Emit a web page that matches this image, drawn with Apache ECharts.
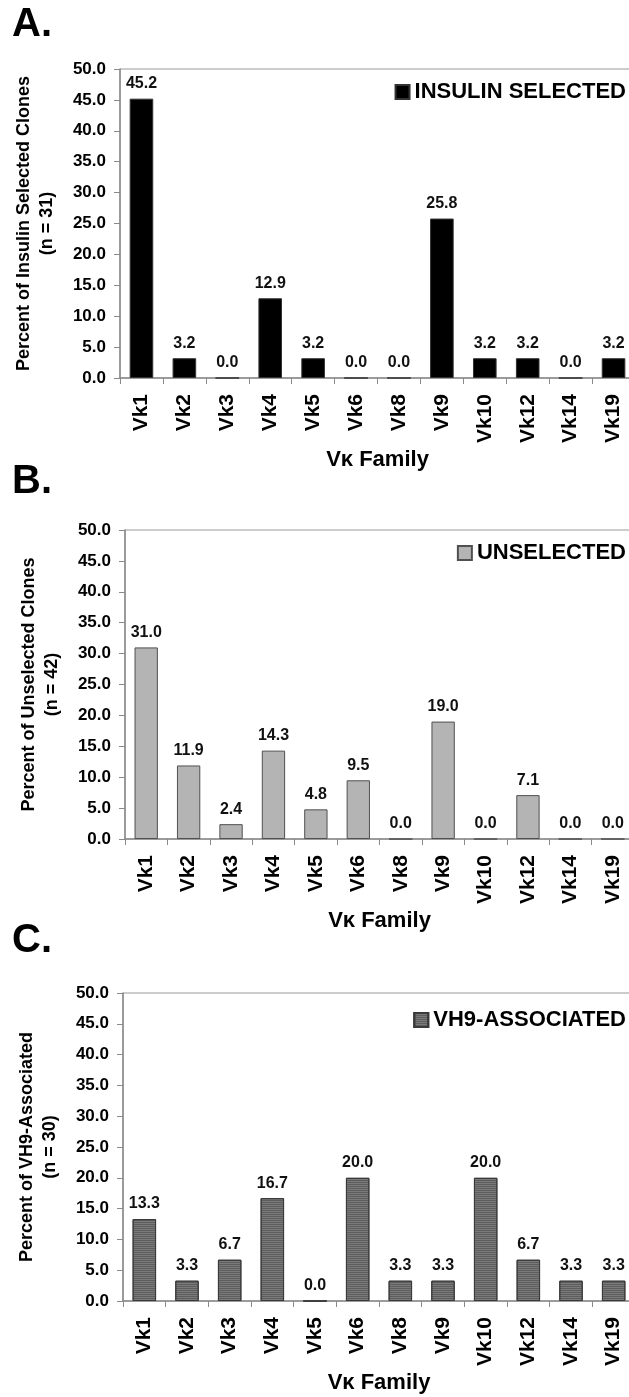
<!DOCTYPE html>
<html>
<head>
<meta charset="utf-8">
<script src="https://cdn.jsdelivr.net/npm/echarts@6/dist/echarts.min.js"></script>
<style>
html,body{margin:0;padding:0;background:#fff;}
#chart{width:629px;height:1397px;}
</style>
</head>
<body>
<div id="chart"></div>
<script>
const categories = ['Vk1','Vk2','Vk3','Vk4','Vk5','Vk6','Vk8','Vk9','Vk10','Vk12','Vk14','Vk19'];
const insulinSelected = [45.2, 3.2, 0.0, 12.9, 3.2, 0.0, 0.0, 25.8, 3.2, 3.2, 0.0, 3.2];
const unselected = [31.0, 11.9, 2.4, 14.3, 4.8, 9.5, 0.0, 19.0, 0.0, 7.1, 0.0, 0.0];
const vh9Associated = [13.3, 3.3, 6.7, 16.7, 0.0, 20.0, 3.3, 3.3, 20.0, 6.7, 3.3, 3.3];
const panelLetters = ['A.', 'B.', 'C.'];
const seriesNames = ['INSULIN SELECTED', 'UNSELECTED', 'VH9-ASSOCIATED'];
const yAxisNames = ['Percent of Insulin Selected Clones\n(n = 31)', 'Percent of Unselected Clones\n(n = 42)', 'Percent of VH9-Associated\n(n = 30)'];
const xAxisName = 'V\u03ba Family';

const FONT = '"Liberation Sans", Arial, sans-serif';
const grids = [
  {left:120, top:69, width:515, height:309},
  {left:125, top:530, width:509, height:309},
  {left:123, top:993, width:512, height:308}
];
const letterTops = [5, 462, 921];
const legendTops = [81, 542, 1009];
const dataSets = [insulinSelected, unselected, vh9Associated];
const barStyles = [
  {color:'#000000', borderColor:'#333333', borderWidth:1},
  {color:'#b4b4b4', borderColor:'#505050', borderWidth:1},
  {color:'#7a7a7a', borderColor:'#3a3a3a', borderWidth:1,
   decal:{symbol:'rect', dashArrayX:[1,0], dashArrayY:[1,1], rotation:0, color:'rgba(40,40,40,0.35)'}}
];

const chart = echarts.init(document.getElementById('chart'), null, {renderer:'canvas'});
const option = {
  backgroundColor:'#ffffff',
  animation:false,
  textStyle:{fontFamily:FONT},
  title: panelLetters.map((t,i)=>({text:t, left:12, top:letterTops[i], padding:0,
    textStyle:{fontSize:40, fontWeight:'bold', color:'#000', fontFamily:FONT}})),
  legend: seriesNames.map((n,i)=>({
    data:[n], right:3, top:legendTops[i], padding:0,
    itemWidth:14, itemHeight:14, itemGap:5,
    textStyle:{fontSize:22, fontWeight:'bold', color:'#000', fontFamily:FONT},
    icon:'rect'
  })),
  grid: grids.map(g=>Object.assign({show:true, borderColor:'#9a9a9a', borderWidth:1, backgroundColor:'transparent',
    containLabel:false, outerBoundsMode:'none'}, g)),
  xAxis: grids.map((g,i)=>({
    type:'category', gridIndex:i, data:categories,
    name:xAxisName, nameLocation:'middle', nameGap:71,
    nameTextStyle:{fontSize:22, fontWeight:'bold', color:'#000', fontFamily:FONT},
    axisLine:{lineStyle:{color:'#8a8a8a', width:1.5}},
    axisTick:{show:true, length:6, lineStyle:{color:'#8a8a8a'}},
    axisLabel:{rotate:90, margin:16, fontSize:21, fontWeight:'bold', color:'#000', fontFamily:FONT, interval:0}
  })),
  yAxis: grids.map((g,i)=>({
    type:'value', gridIndex:i, min:0, max:50, interval:5,
    name:yAxisNames[i], nameLocation:'middle', nameGap:61, nameRotate:90,
    nameTextStyle:{fontSize:18, fontWeight:'bold', color:'#000', lineHeight:23, fontFamily:FONT},
    axisLine:{show:true, lineStyle:{color:'#8a8a8a', width:1.5}},
    axisTick:{show:true, length:6, lineStyle:{color:'#8a8a8a'}},
    splitLine:{show:false},
    axisLabel:{margin:14, fontSize:17, fontWeight:'bold', color:'#000', fontFamily:FONT,
      formatter:v=>v.toFixed(1)}
  })),
  series: dataSets.map((d,i)=>({
    type:'bar', name:seriesNames[i], xAxisIndex:i, yAxisIndex:i, data:d,
    barWidth:'55%',
    itemStyle:barStyles[i],
    label:{show:true, position:'top', distance:7, fontSize:16, fontWeight:'bold', color:'#111', fontFamily:FONT,
      formatter:p=>p.value.toFixed(1)}
  }))
};
chart.setOption(option);
</script>
</body>
</html>
